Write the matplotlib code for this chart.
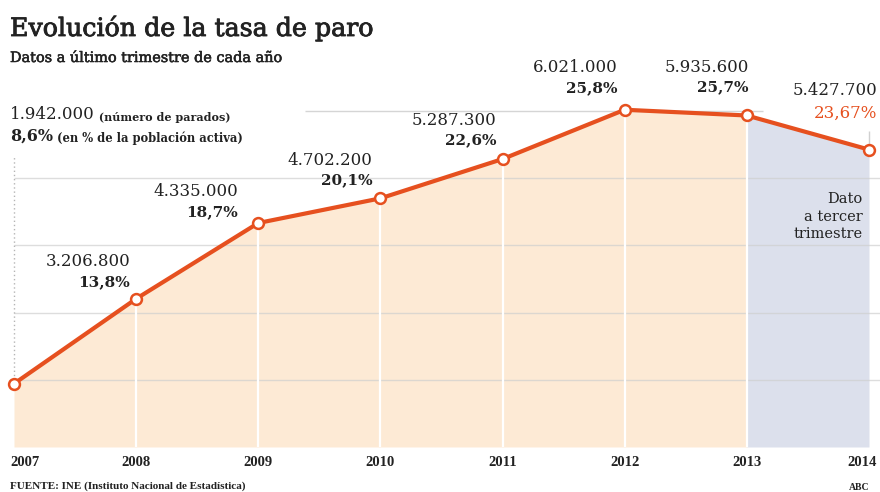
import matplotlib
matplotlib.use("Agg")
import matplotlib.pyplot as plt
import matplotlib.patheffects as pe

# Paro registrado en la EPA (último trimestre; 2014 a tercer trimestre)
anios = [2007, 2008, 2009, 2010, 2011, 2012, 2013, 2014]
parados = [1942000, 3206800, 4335000, 4702200, 5287300, 6021000, 5935600, 5427700]
tasa = ["8,6%", "13,8%", "18,7%", "20,1%", "22,6%", "25,8%", "25,7%", "23,67%"]
etiquetas_parados = ["1.942.000", "3.206.800", "4.335.000", "4.702.200",
                     "5.287.300", "6.021.000", "5.935.600", "5.427.700"]

mill = [p / 1e6 for p in parados]

W, H = 880, 492
NARANJA = "#E6501F"
TEXTO = "#222222"
SERIF = "DejaVu Serif"
COND = "Liberation Serif"
grueso = [pe.withStroke(linewidth=0.6, foreground=TEXTO)]

fig = plt.figure(figsize=(W / 100, H / 100), dpi=100)
ax = fig.add_axes([0, 0, 1, 1])
ax.set_xlim(2006.8854, 2014.090)
ax.set_ylim(0.330, 7.655)
ax.set_axis_off()


def px(x, y):
    return x / W, 1 - y / H


# relleno bajo la curva: datos anuales y tramo provisional
ax.fill_between(anios[:7], 1.0, mill[:7], color="#FDEAD5", lw=0, zorder=1)
ax.fill_between(anios[6:], 1.0, mill[6:], color="#DCE0EC", lw=0, zorder=1)

# rejilla horizontal
for g in [2, 3, 4, 5]:
    ax.hlines(g, anios[0], 2014.09, color="#cfcfcf", lw=1, alpha=0.7, zorder=2)
ax.hlines(6, 2009.38, 2013.13, color="#d5d5d5", lw=1, zorder=2)

# separadores verticales dentro del área
for a, v in zip(anios[1:-1], mill[1:-1]):
    ax.vlines(a, 1.0, v, color="white", lw=1.6, zorder=3)
ax.vlines(anios[0], mill[0], 5.35, color="#b5b5b5", lw=1, ls=(0, (1, 2)), zorder=2)
ax.vlines(anios[-1], mill[-1], 5.7, color="#d0d0d0", lw=1, zorder=2)

ax.plot(anios, mill, color=NARANJA, lw=3.0, marker="o", ms=7.8,
        mfc="white", mec=NARANJA, mew=1.8, zorder=5, clip_on=False,
        solid_capstyle="round")

# etiquetas de cada punto (desplazamiento en píxeles respecto al punto)
desplaz = [None, (-6, 37), (-20, 31), (-8, 38), (-6, 39), (-7, 42), (2, 48), (8, 59)]
for i in range(1, len(anios)):
    dx, dy = desplaz[i]
    ax.annotate(etiquetas_parados[i], (anios[i], mill[i]), xytext=(dx, dy),
                textcoords="offset pixels", ha="right", va="center",
                fontsize=12, family=SERIF, color=TEXTO, zorder=6)
    ultimo = i == len(anios) - 1
    ax.annotate(tasa[i], (anios[i], mill[i]), xytext=(dx, dy - (23 if ultimo else 20)),
                textcoords="offset pixels", ha="right", va="center",
                fontsize=12 if ultimo else 11,
                fontweight="normal" if ultimo else "bold",
                family=SERIF, color=NARANJA if ultimo else TEXTO, zorder=6)

# primer dato con su explicación
t1 = fig.text(*px(10, 119), etiquetas_parados[0], fontsize=12, family=SERIF,
              color=TEXTO, va="baseline")
fig.canvas.draw()
ax.annotate(" (número de parados)", xy=(1, 0), xycoords=t1, va="bottom",
            fontsize=8, fontweight="bold", family=SERIF, color=TEXTO)
t2 = fig.text(*px(10, 141), tasa[0], fontsize=11.5, fontweight="bold",
              family=SERIF, color=TEXTO, va="baseline")
ax.annotate(" (en % de la población activa)", xy=(1, 0), xycoords=t2, va="bottom",
            fontsize=8.3, fontweight="bold", family=SERIF, color=TEXTO)

# años en el eje
for i, a in enumerate(anios):
    if i == 0:
        ha, dx = "left", -4
    elif i == len(anios) - 1:
        ha, dx = "right", 8
    else:
        ha, dx = "center", 0
    ax.annotate(str(a), (a, 1.0), xytext=(dx, -16), textcoords="offset pixels",
                ha=ha, va="center", fontsize=10.5, fontweight="bold",
                family=COND, color=TEXTO)

ax.text(2013.95, 4.8, "Dato\na tercer\ntrimestre", ha="right", va="top",
        fontsize=10.5, family=SERIF, color=TEXTO, linespacing=1.35, zorder=6)

fig.text(*px(10, 36), "Evolución de la tasa de paro", fontsize=18.2,
         family=SERIF, color=TEXTO, va="baseline", path_effects=grueso)
fig.text(*px(10, 62), "Datos a último trimestre de cada año", fontsize=10.4,
         family=SERIF, color=TEXTO, va="baseline",
         path_effects=[pe.withStroke(linewidth=0.4, foreground=TEXTO)])
fig.text(*px(10, 486), "FUENTE: INE (Instituto Nacional de Estadística)",
         fontsize=8, fontweight="bold", family=COND, color=TEXTO, va="center")
fig.text(*px(870, 487), "ABC", fontsize=7, fontweight="bold", family=COND,
         color=TEXTO, va="center", ha="right")

fig.savefig("out.png", dpi=100)
